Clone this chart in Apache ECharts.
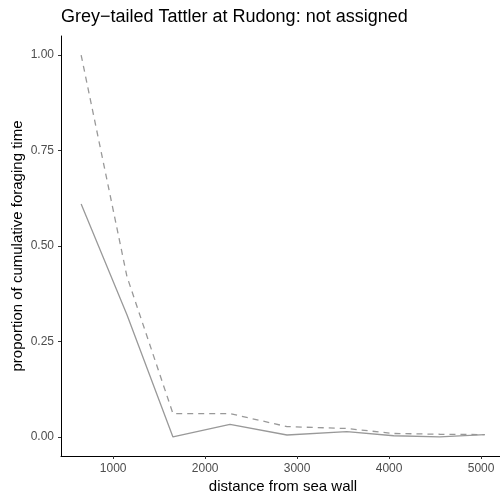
<!DOCTYPE html>
<html>
<head>
<meta charset="utf-8">
<script src="https://cdn.jsdelivr.net/npm/echarts@6/dist/echarts.min.js"></script>
<style>
  html, body { margin: 0; padding: 0; background: #fff; }
  #chart { width: 500px; height: 498px; }
</style>
</head>
<body>
<div id="chart"></div>
<script>
// distance bins along the transect (m from the sea wall)
const distance = [652, 1150, 1650, 2270, 2890, 3540, 4050, 4550, 5040];
// proportion of cumulative foraging time per bin
const solidValues = [0.61, 0.32, 0.0, 0.033, 0.005, 0.014, 0.003, 0.0, 0.006];
// upper (dashed) curve
const dashedValues = [1.0, 0.42, 0.061, 0.061, 0.027, 0.022, 0.009, 0.007, 0.006];
const xTicks = [1000, 2000, 3000, 4000, 5000];
const yTicks = [0, 0.25, 0.5, 0.75, 1.0];

const FONT = 'Liberation Sans, Arial, Helvetica, sans-serif';
const pair = (xs, ys) => xs.map((x, i) => [x, ys[i]]);

const chart = echarts.init(document.getElementById('chart'), null, { renderer: 'canvas' });
chart.setOption({
  animation: false,
  backgroundColor: '#ffffff',
  title: {
    text: 'Grey\u2212tailed Tattler at Rudong: not assigned',
    left: 56, top: 3,
    textStyle: { fontFamily: FONT, fontSize: 18, fontWeight: 'normal', color: '#000' }
  },
  // the panel runs slightly past the right edge of the canvas
  grid: { left: 61, top: 36, width: 444, height: 420, containLabel: false, outerBoundsMode: 'none' },
  xAxis: {
    type: 'value', min: 433, max: 5260,
    name: 'distance from sea wall', nameLocation: 'middle', nameGap: 23,
    nameMoveOverlap: false,
    nameTextStyle: { fontFamily: FONT, fontSize: 15, color: '#000' },
    axisLine: { show: true, onZero: false, lineStyle: { color: '#000', width: 1 } },
    axisTick: { show: true, length: 3, customValues: xTicks, lineStyle: { color: '#333' } },
    axisLabel: {
      customValues: xTicks, fontFamily: FONT, fontSize: 12, color: '#4d4d4d', margin: 7,
      formatter: v => String(v)
    },
    splitLine: { show: false }
  },
  yAxis: {
    type: 'value', min: -0.05, max: 1.05,
    name: 'proportion of cumulative foraging time', nameLocation: 'middle', nameGap: 36,
    nameMoveOverlap: false,
    nameTextStyle: { fontFamily: FONT, fontSize: 15, color: '#000' },
    axisLine: { show: true, onZero: false, lineStyle: { color: '#000', width: 1 } },
    axisTick: { show: true, length: 3, customValues: yTicks, lineStyle: { color: '#333' } },
    axisLabel: {
      customValues: yTicks, fontFamily: FONT, fontSize: 12, color: '#4d4d4d', margin: 7,
      formatter: v => v.toFixed(2)
    },
    splitLine: { show: false }
  },
  series: [
    {
      type: 'line', data: pair(distance, dashedValues), symbol: 'none',
      lineStyle: { color: '#999999', width: 1.3, type: [6, 5] }
    },
    {
      type: 'line', data: pair(distance, solidValues), symbol: 'none',
      lineStyle: { color: '#999999', width: 1.3 }
    }
  ]
});
</script>
</body>
</html>
